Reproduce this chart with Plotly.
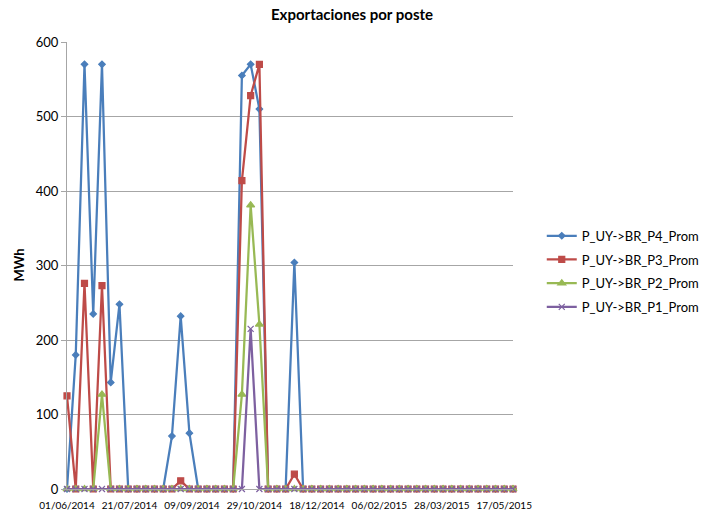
import pandas as pd
import plotly.graph_objects as go

# Weekly export averages per block (MWh), starting 01/06/2014
fechas = pd.date_range("2014-06-01", periods=52, freq="7D")

p4 = [0, 180, 570, 235, 570, 143, 248, 0, 0, 0, 0, 0, 71, 232, 75, 0, 0, 0, 0, 0,
      555, 570, 510, 0, 0, 0, 304, 0] + [0] * 24
p3 = [125, 0, 276, 0, 273, 0, 0, 0, 0, 0, 0, 0, 0, 11, 0, 0, 0, 0, 0, 0,
      414, 528, 570, 0, 0, 0, 20, 0] + [0] * 24
p2 = [0, 0, 0, 0, 127, 0, 0, 0, 0, 0, 0, 0, 0, 0, 0, 0, 0, 0, 0, 0,
      127, 381, 221, 0, 0, 0, 0, 0] + [0] * 24
p1 = [0, 0, 0, 0, 0, 0, 0, 0, 0, 0, 0, 0, 0, 0, 0, 0, 0, 0, 0, 0,
      0, 215, 0, 0, 0, 0, 0, 0] + [0] * 24

series = [
    ("P_UY->BR_P4_Prom", p4, "#4A7EBB", "diamond", 5),
    ("P_UY->BR_P3_Prom", p3, "#BE4B48", "square", 6),
    ("P_UY->BR_P2_Prom", p2, "#98B954", "triangle-up", 7),
    ("P_UY->BR_P1_Prom", p1, "#7D60A0", "x-thin", 6),
]

FONT = "Lato"

fig = go.Figure()
for nombre, valores, color, simbolo, tam in series:
    fig.add_trace(go.Scatter(
        x=fechas, y=valores, name=nombre, mode="lines+markers",
        legendgroup=nombre,
        line=dict(color=color, width=2.25),
        marker=dict(symbol=simbolo, size=tam, color=color,
                    line=dict(color=color, width=1.2)),
        cliponaxis=False,
    ))

fig.update_layout(
    width=704, height=515,
    margin=dict(l=67, r=191, t=42, b=26, autoexpand=False),
    paper_bgcolor="white", plot_bgcolor="white",
    font=dict(family=FONT, color="#000000"),
    title=dict(text="<b>Exportaciones por poste</b>", x=0.5, xanchor="center",
               y=0.971, yanchor="middle", font=dict(size=15, family=FONT)),
    legend=dict(x=1.0645, xanchor="left", y=0.487, yanchor="middle",
                font=dict(size=13, family=FONT), bgcolor="rgba(0,0,0,0)",
                itemwidth=30, tracegroupgap=3.8),
    showlegend=True,
)

fig.update_xaxes(
    type="date", range=[fechas[0], fechas[-1]],
    tick0=fechas[0], dtick=50 * 86400000, tickformat="%d/%m/%Y",
    tickangle=0, showgrid=False, zeroline=False,
    showline=True, linecolor="#A6A6A6", linewidth=1,
    ticks="", tickfont=dict(size=10, family=FONT), ticklabelstandoff=7,
)
fig.update_yaxes(
    range=[0, 600], dtick=100,
    showgrid=True, gridcolor="#A6A6A6", gridwidth=1, zeroline=False,
    showline=True, linecolor="#A6A6A6", linewidth=1,
    ticks="outside", ticklen=5, tickcolor="#A6A6A6",
    tickfont=dict(size=13, family=FONT),
)

fig.add_annotation(
    text="<b>MWh</b>", textangle=-90, xref="paper", yref="paper",
    x=(18 - 67) / 446, y=0.5, xanchor="center", yanchor="middle",
    showarrow=False, font=dict(size=13, family=FONT),
)

fig.write_html("out.html")
